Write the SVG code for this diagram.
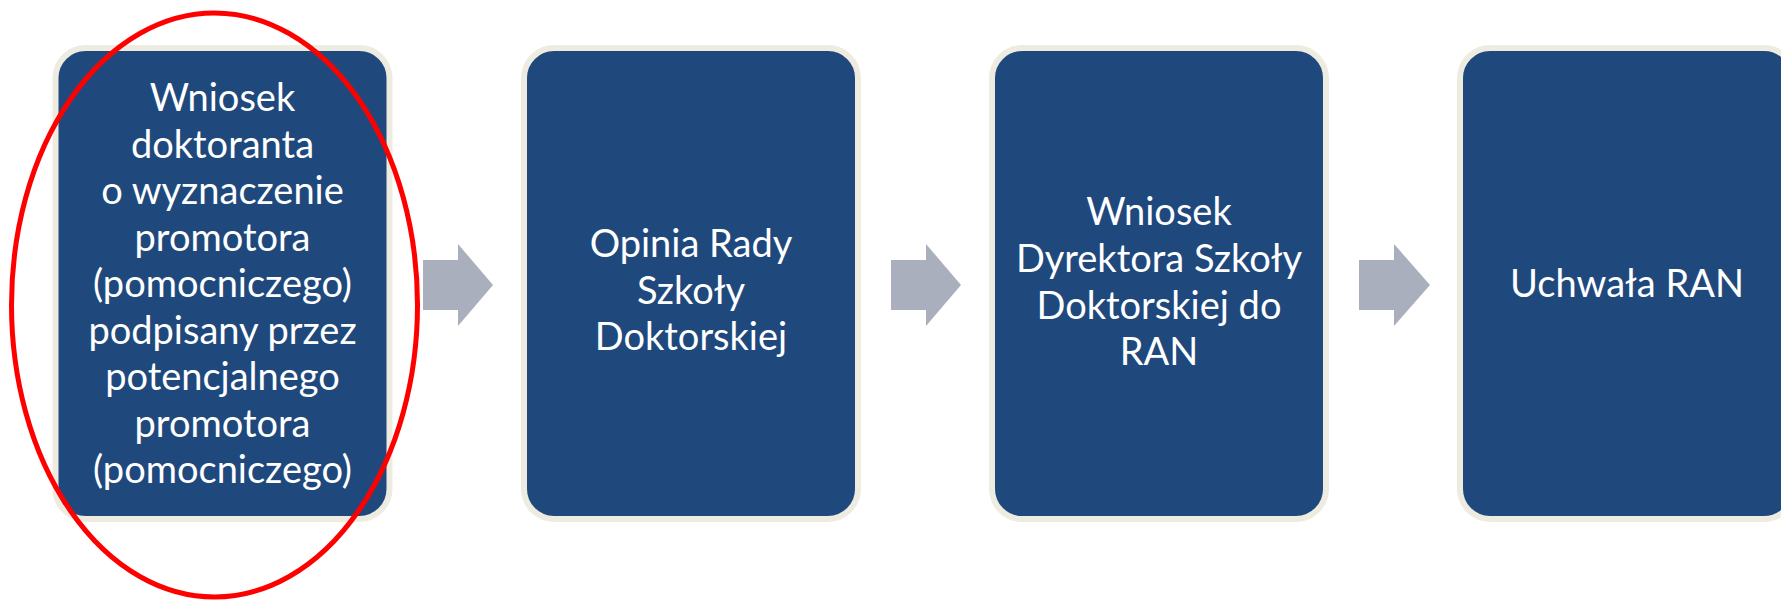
<svg xmlns="http://www.w3.org/2000/svg" width="1781" height="603" viewBox="0 0 1781 603">
<style>
.box{fill:#1F497D;stroke:#EEECE1;stroke-width:6}
.lbl{font-family:Lato,"Open Sans",sans-serif;font-size:38px;fill:#FFFFFF;text-anchor:middle}
.arr{fill:#A9AFBD}
.mark{fill:none;stroke:#FF0000;stroke-width:5}
</style>
<rect width="1781" height="603" fill="#FFFFFF"/>
<g id="connectors">
<polygon class="arr" points="423,260 458,260 458,244 493,285 458,326 458,310 423,310"/>
<polygon class="arr" points="891,260 926,260 926,244 961,285 926,326 926,310 891,310"/>
<polygon class="arr" points="1359,260 1394,260 1394,244 1430,285 1394,326 1394,310 1359,310"/>
</g>
<g id="node1">
<rect class="box" x="55.5" y="48" width="334" height="471" rx="30"/>
<text class="lbl"><tspan x="222.5" y="111">Wniosek</tspan><tspan x="222.5" y="157.5">doktoranta</tspan><tspan x="222.5" y="204">o wyznaczenie</tspan><tspan x="222.5" y="250.5">promotora</tspan><tspan x="222.5" y="297">(pomocniczego)</tspan><tspan x="222.5" y="343.5">podpisany przez</tspan><tspan x="222.5" y="390">potencjalnego</tspan><tspan x="222.5" y="436.5">promotora</tspan><tspan x="222.5" y="483">(pomocniczego)</tspan></text>
</g>
<g id="node2">
<rect class="box" x="524" y="48" width="334" height="471" rx="30"/>
<text class="lbl"><tspan x="691" y="257">Opinia Rady</tspan><tspan x="691" y="303.5">Szkoły</tspan><tspan x="691" y="350">Doktorskiej</tspan></text>
</g>
<g id="node3">
<rect class="box" x="992" y="48" width="334" height="471" rx="30"/>
<text class="lbl"><tspan x="1159" y="225">Wniosek</tspan><tspan x="1159" y="272">Dyrektora Szkoły</tspan><tspan x="1159" y="318.5">Doktorskiej do</tspan><tspan x="1159" y="365">RAN</tspan></text>
</g>
<g id="node4">
<rect class="box" x="1460" y="48" width="334" height="471" rx="30"/>
<text class="lbl"><tspan x="1627" y="297">Uchwała RAN</tspan></text>
</g>
<g id="highlight">
<ellipse class="mark" cx="214.5" cy="305" rx="203" ry="292"/>
</g>
</svg>
